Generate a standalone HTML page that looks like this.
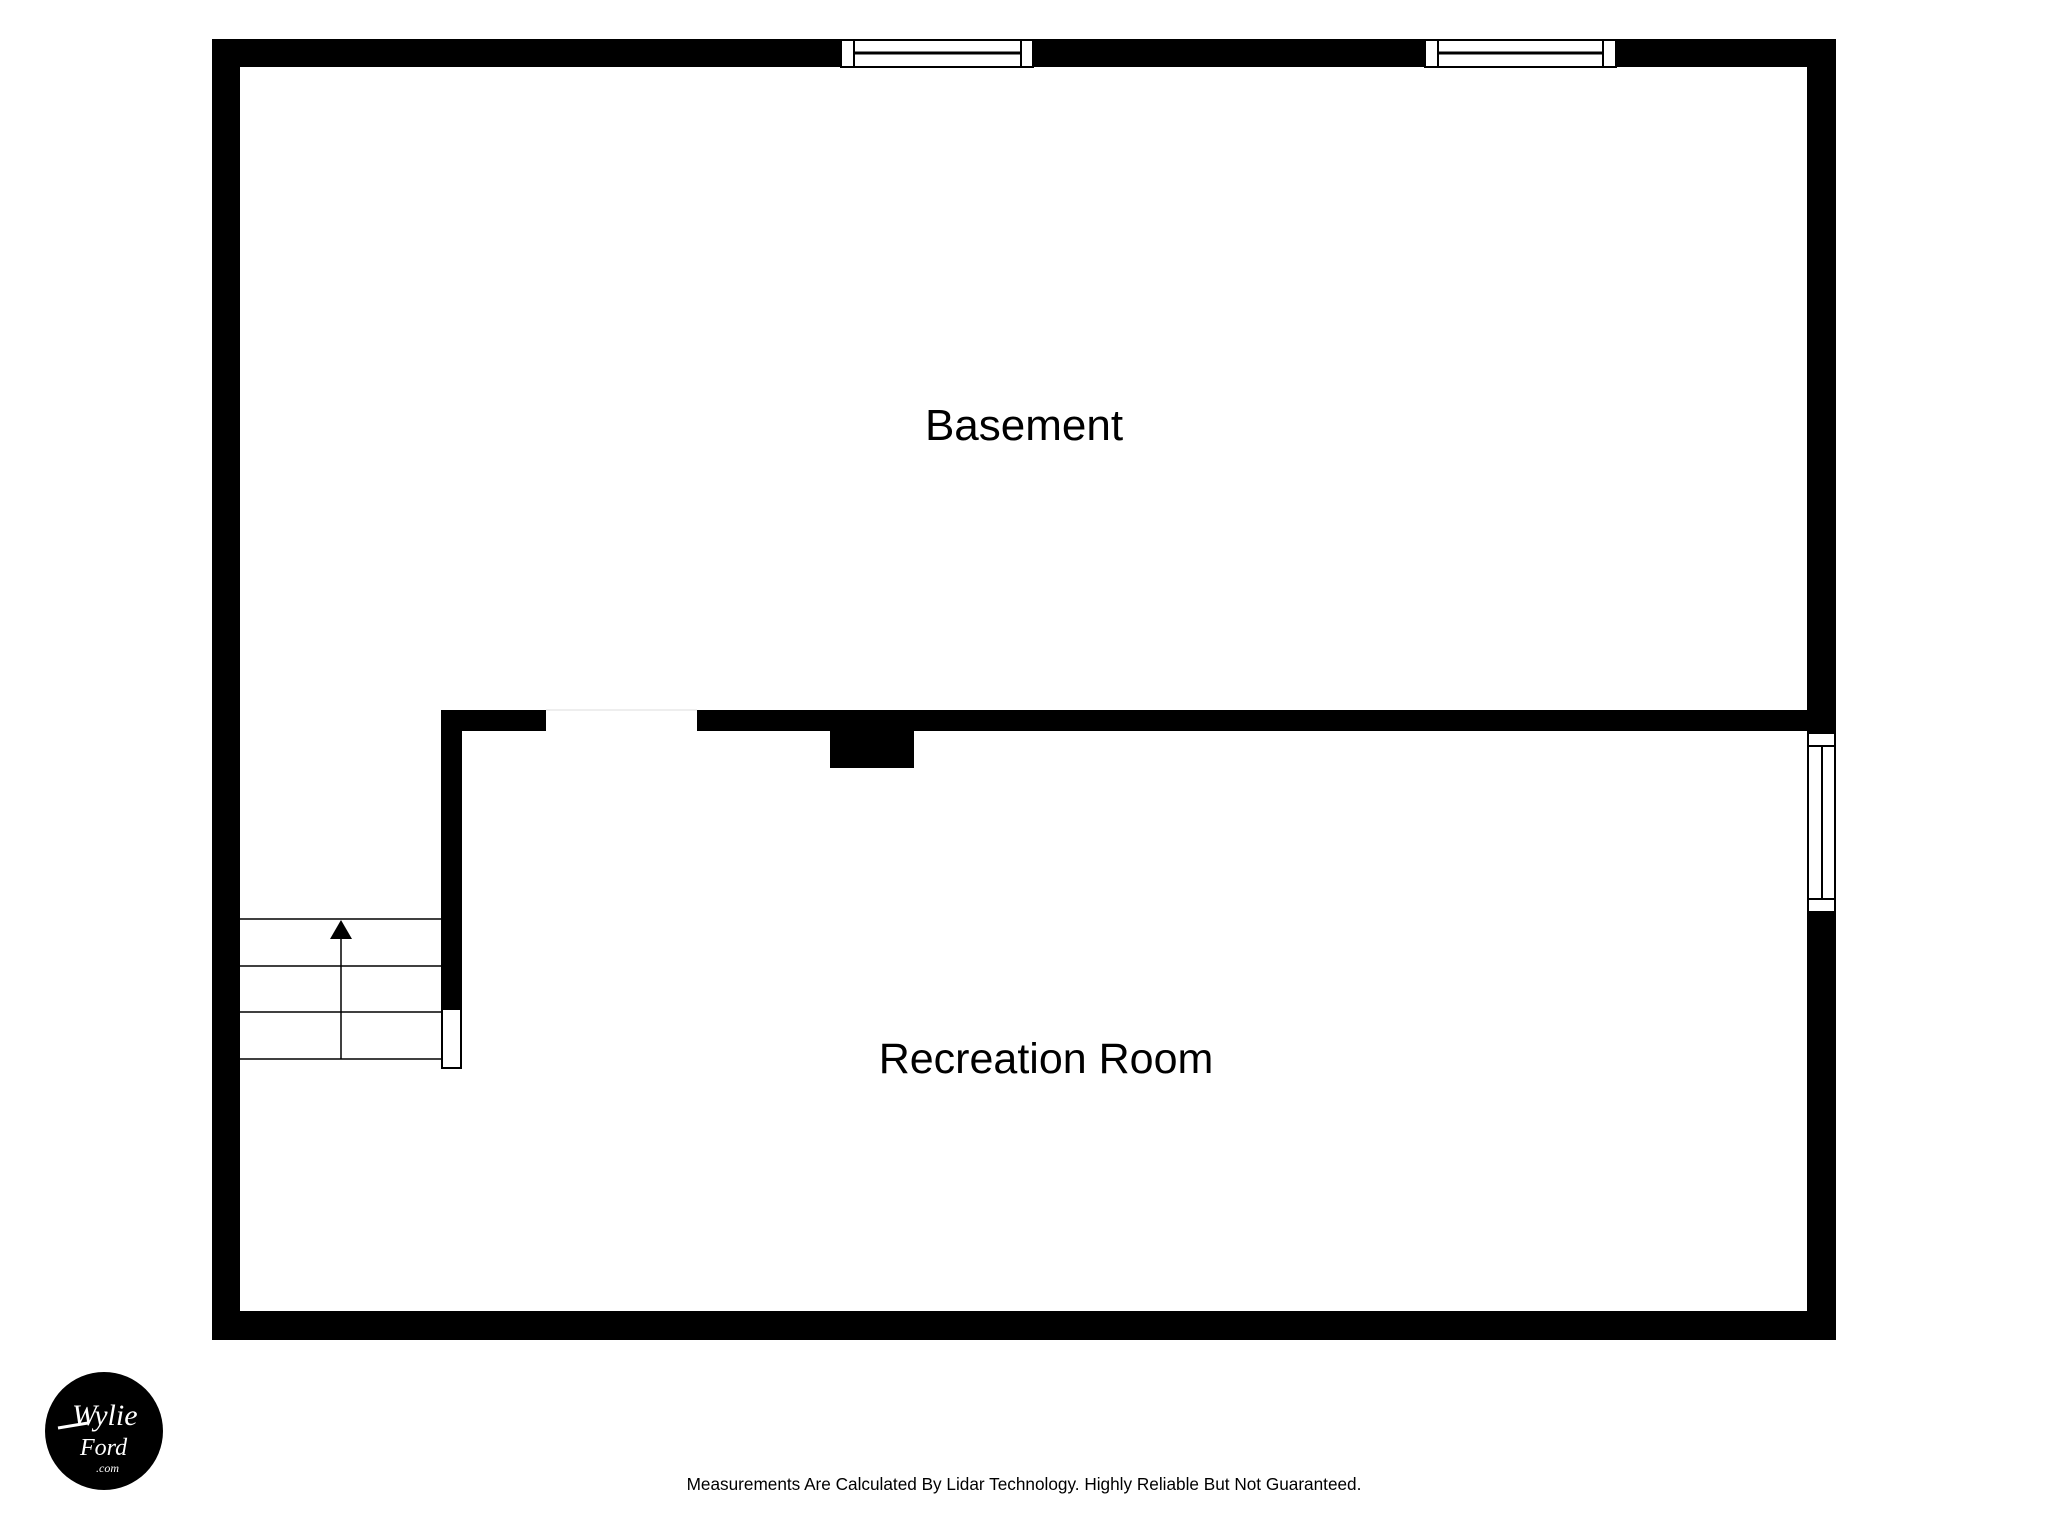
<!DOCTYPE html>
<html><head><meta charset="utf-8"><style>
html,body{margin:0;padding:0;background:#fff;}
body{width:2048px;height:1536px;overflow:hidden;position:relative;}
</style></head><body>
<svg width="2048" height="1536" viewBox="0 0 2048 1536" xmlns="http://www.w3.org/2000/svg" style="position:absolute;left:0;top:0">
<path fill="#000" fill-rule="evenodd" d="M212 39H1836V1340H212Z M240 67V1311H1807V67Z"/>
<g stroke="#000" stroke-width="2" fill="#fff">
<rect x="841" y="40" width="192" height="27"/>
<line x1="854" y1="40" x2="854" y2="67"/><line x1="1021" y1="40" x2="1021" y2="67"/>
<line x1="854" y1="53" x2="1021" y2="53" stroke-width="3"/>
<rect x="1425" y="40" width="191" height="27"/>
<line x1="1438" y1="40" x2="1438" y2="67"/><line x1="1603" y1="40" x2="1603" y2="67"/>
<line x1="1438" y1="53" x2="1603" y2="53" stroke-width="3"/>
</g>
<g stroke="#000" stroke-width="2" fill="#fff">
<rect x="1808" y="733" width="27" height="179"/>
<line x1="1808" y1="746" x2="1835" y2="746"/><line x1="1808" y1="899" x2="1835" y2="899"/>
<line x1="1822" y1="746" x2="1822" y2="899"/>
</g>
<rect x="441" y="710" width="105" height="21" fill="#000"/>
<rect x="697" y="710" width="1112" height="21" fill="#000"/>
<rect x="441" y="710" width="21" height="300" fill="#000"/>
<rect x="830" y="728" width="84" height="40" fill="#000"/>
<line x1="546" y1="710" x2="697" y2="710" stroke="#ddd" stroke-width="1"/>
<g stroke="#000" stroke-width="1.5">
<line x1="240" y1="919" x2="442" y2="919"/>
<line x1="240" y1="966" x2="442" y2="966"/>
<line x1="240" y1="1012" x2="442" y2="1012"/>
<line x1="240" y1="1059" x2="442" y2="1059"/>
<line x1="341" y1="935" x2="341" y2="1059"/>
</g>
<polygon points="341,920 330,939 352,939" fill="#000"/>
<rect x="442" y="1009" width="19" height="59" fill="#fff" stroke="#000" stroke-width="2"/>
<g font-family="Liberation Sans, sans-serif" fill="#000" text-anchor="middle">
<text x="1024" y="440" font-size="44">Basement</text>
<text x="1046" y="1073" font-size="43">Recreation Room</text>
<text x="1024" y="1490" font-size="17.2">Measurements Are Calculated By Lidar Technology. Highly Reliable But Not Guaranteed.</text>
</g>
<circle cx="104" cy="1431" r="59" fill="#000"/>
<g font-family="Liberation Serif, serif" font-style="italic" fill="#fff">
<text x="72" y="1425" font-size="30">Wylie</text>
<text x="80" y="1455" font-size="24">Ford</text>
<text x="96" y="1472" font-size="12">.com</text>
</g>
<line x1="58" y1="1428" x2="88" y2="1423" stroke="#fff" stroke-width="3"/>
</svg>
</body></html>
